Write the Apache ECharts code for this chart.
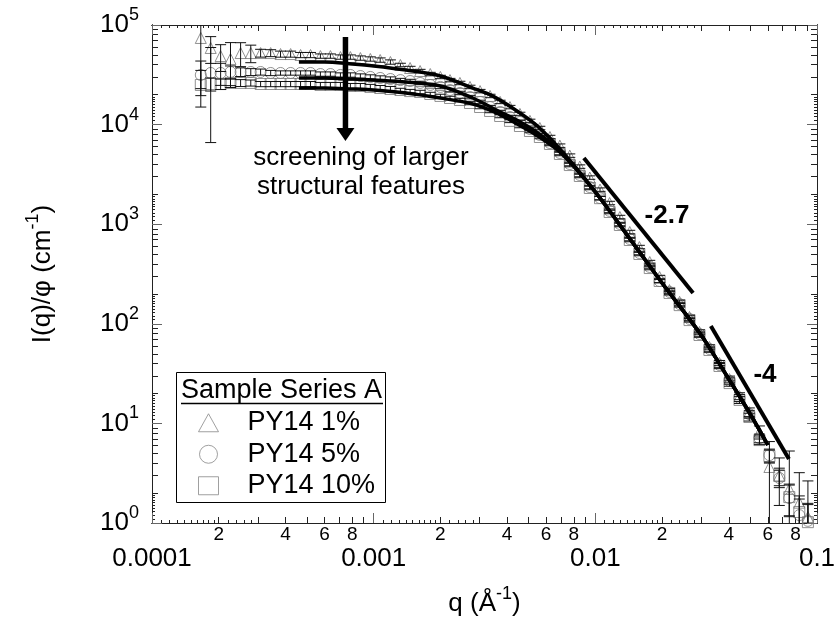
<!DOCTYPE html>
<html><head><meta charset="utf-8">
<script src="https://cdn.jsdelivr.net/npm/echarts@6/dist/echarts.min.js"></script>
<style>html,body{margin:0;padding:0;background:#fff}#c{width:836px;height:626px}</style>
</head><body><div id="c"></div>
<script>
// ---------- data ----------
const qVals = [1.66e-4,1.84e-4,2.04e-4,2.26e-4,2.51e-4,2.79e-4,3.09e-4,3.43e-4,3.80e-4,4.22e-4,
  4.68e-4,5.19e-4,5.75e-4,6.38e-4,7.08e-4,7.85e-4,8.71e-4,9.66e-4,1.07e-3,1.19e-3,
  1.32e-3,1.46e-3,1.62e-3,1.80e-3,2.00e-3,2.21e-3,2.45e-3,2.72e-3,3.02e-3,3.35e-3,
  3.72e-3,4.12e-3,4.57e-3,5.07e-3,5.62e-3,6.24e-3,6.92e-3,7.67e-3,8.51e-3,9.44e-3,
  1.05e-2,1.16e-2,1.29e-2,1.43e-2,1.58e-2,1.76e-2,1.95e-2,2.16e-2,2.40e-2,2.66e-2,
  2.95e-2,3.27e-2,3.63e-2,4.03e-2,4.47e-2,4.95e-2,5.50e-2,6.10e-2,6.76e-2,7.50e-2,
  8.32e-2,9.10e-2];
const py14_1 = [74100,58800,48800,45600,52300,52300,52300,52300,51100,51100,
  50000,50000,48800,48800,47700,47700,46600,45600,44500,42500,
  39700,37000,34500,32200,30100,28000,26200,23900,21700,19400,
  16900,15000,12800,10900,9250,7510,6150,4885,3790,2940,
  2225,1633,1181,835,590,417,295,218,166,117,
  82.7,58.5,40.4,27.9,18.8,13.0,8.2,3.65,3.0,2.2,
  1.6,1.15];
const py14_5 = [31500,33000,33000,33750,33750,33750,33750,33000,33000,33000,
  33000,33000,32200,32200,31500,31500,30760,30100,29400,28700,
  28000,27400,26200,25000,23900,22250,20770,18900,16900,15000,
  13390,11920,10620,9030,7865,6530,5190,4020,3120,2360,
  1830,1360,1005,710,514,372,269,209,158,112,
  79,55.9,38.6,26.7,18.0,12.4,7.1,4.8,2.83,1.78,
  1.2,1.05];
const py14_10 = [25000,25560,25560,26200,26200,26200,25560,25560,25560,25560,
  25560,25560,25000,25000,25000,24410,24410,23900,23300,22780,
  22250,21700,21250,20290,19400,18500,17660,16480,15020,13700,
  12200,10900,9680,8625,7510,6390,5068,3926,3048,2310,
  1825,1326,982,694,502,363,269,204,154,109,
  77.2,54.6,37.7,25.4,17.2,11.6,6.8,4.7,2.96,1.82,
  1.29,1.02];
// relative uncertainties
const err_1 = [0.69,0.30,0.30,0.46,0.27,0.20,0.09,0.08,0.07,0.07,
  0.06,0.06,0.05,0.05,0.05,0.05,0.05,0.05,0.05,0.05,
  0.04,0.04,0.04,0.04,0.04,0.04,0.04,0.04,0.04,0.04,
  0.04,0.04,0.04,0.04,0.04,0.04,0.04,0.04,0.04,0.04,
  0.04,0.04,0.04,0.04,0.04,0.04,0.04,0.04,0.04,0.04,
  0.05,0.05,0.06,0.07,0.08,0.10,0.15,0.80,0.50,1.40,
  1.00,1.30];
const err_5 = [0.38,0.80,0.25,0.15,0.10,0.08,0.07,0.06,0.05,0.05,
  0.05,0.05,0.05,0.05,0.05,0.05,0.05,0.05,0.05,0.05,
  0.04,0.04,0.04,0.04,0.04,0.04,0.04,0.04,0.04,0.04,
  0.04,0.04,0.04,0.04,0.04,0.04,0.04,0.04,0.04,0.04,
  0.04,0.04,0.04,0.04,0.04,0.04,0.04,0.04,0.04,0.04,
  0.05,0.05,0.06,0.07,0.08,0.09,0.10,0.15,0.20,0.35,
  0.45,0.50];
const err_10 = [0.40,0.15,0.12,0.10,0.08,0.07,0.06,0.06,0.06,0.06,
  0.06,0.06,0.06,0.06,0.06,0.06,0.06,0.06,0.06,0.06,
  0.04,0.04,0.04,0.04,0.04,0.04,0.04,0.04,0.04,0.04,
  0.04,0.04,0.04,0.04,0.04,0.04,0.04,0.04,0.04,0.04,
  0.04,0.04,0.04,0.04,0.04,0.04,0.04,0.04,0.04,0.04,
  0.05,0.05,0.06,0.07,0.08,0.09,0.10,0.15,0.20,0.35,
  0.45,0.50];
// model fits
const fitQ = [4.6e-4,6e-4,8e-4,1e-3,1.4e-3,2e-3,2.8e-3,3.5e-3,4.5e-3,5.5e-3,7e-3,1e-2,1.5e-2,2e-2,3e-2,4e-2,5e-2,6e-2];
const fit_1 = [42500,42500,40600,38800,35300,30800,23300,19000,13400,9600,5550,2105,618,257,77.2,27.9,12.4,6.07];
const fit_5 = [29400,29400,28700,28000,26800,24400,18500,14340,10870,8235,5307,2105,618,257,77.2,27.9,12.4,6.07];
const fit_10 = [23300,23300,22800,22300,20800,18500,16100,13380,10000,7690,5190,2105,618,257,77.2,27.9,12.4,6.07];
// power-law guide lines
const slopeAQ = [0.00888, 0.0276], slopeAI = [4620, 204];
const slopeBQ = [0.0332, 0.0747], slopeBI = [95, 4.39];
// arrow
const arrowQ = [7.46e-4], arrowFrom = [75800], arrowTo = [6840];
// ticks
const xDecades = [1e-4, 1e-3, 1e-2];
const yDecades = [1, 10, 100, 1000, 10000];
const minorMant = [2,3,4,5,6,7,8,9];
const subMantY = [1.1,1.2,1.3,1.4,1.5,1.6,1.7,1.8,1.9];
const subMantX = [1.1,1.2,1.3,1.4,1.5,1.6,1.7,1.8,1.9,2.2,2.4,2.6,2.8];
const xLabelMant = [2,4,6,8];
const legendNames = ['PY14 1%','PY14 5%','PY14 10%'];

// ---------- build ----------
const FONT = '"Liberation Sans", Arial, sans-serif';
function expand(m, d){ const o=[]; d.forEach(dd=>m.forEach(mm=>o.push(+(mm*dd).toPrecision(3)))); return o; }
const xMinor = expand(minorMant, xDecades), xSub = expand(subMantX, xDecades), xMinorLab = expand(xLabelMant, xDecades);
const yMinor = expand(minorMant, yDecades), ySub = expand(subMantY, yDecades);

function baseAxis(extra){
  return Object.assign({type:'log', logBase:10, splitLine:{show:false}, minorTick:{show:false}, minorSplitLine:{show:false},
    axisLine:{show:true, lineStyle:{color:'#222', width:1}}, axisPointer:{show:false}, nameMoveOverlap:false}, extra);
}
function tickSet(dim, pos, minor, sub){
  const X = dim==='x' ? {min:1e-4, max:0.1} : {min:1, max:1e5};
  return [
    baseAxis(Object.assign({position:pos, axisTick:{show:true, inside:true, length:10, lineStyle:{color:'#666', width:1}}, axisLabel:{show:false}}, X)),
    baseAxis(Object.assign({position:pos, axisTick:{show:true, inside:true, length:6, customValues:minor, lineStyle:{color:'#222', width:1}}, axisLabel:{show:false}}, X)),
    baseAxis(Object.assign({position:pos, axisTick:{show:true, inside:true, length:3, customValues:sub, lineStyle:{color:'#222', width:1}}, axisLabel:{show:false}}, X))
  ];
}
const supRich = {
  b:{fontSize:26, lineHeight:26, verticalAlign:'bottom', fontFamily:FONT, color:'#000'},
  s:{fontSize:18, lineHeight:18, padding:[0,0,20,0], fontFamily:FONT, color:'#000'}
};
const xAxes = tickSet('x','bottom',xMinor,xSub).concat(tickSet('x','top',xMinor,xSub));
Object.assign(xAxes[0], {
  axisLabel:{show:true, margin:23, fontSize:26, fontFamily:FONT, color:'#000', showMinLabel:true, showMaxLabel:true, hideOverlap:false,
    formatter: v => String(Number(v.toPrecision(3)))},
  name:'{b|q (Å}{s|-1}{b|)}', nameLocation:'middle', nameGap:68, nameTextStyle:{rich:supRich}
});
xAxes[1].axisLabel = {show:true, margin:2, fontSize:19, fontFamily:FONT, color:'#000', customValues:xMinorLab, hideOverlap:false,
  formatter: v => String(Math.round(v / Math.pow(10, Math.floor(Math.log10(v) + 1e-9))))};
const yAxes = tickSet('y','left',yMinor,ySub).concat(tickSet('y','right',yMinor,ySub));
Object.assign(yAxes[0], {
  axisLabel:{show:true, margin:13, showMinLabel:true, showMaxLabel:true, hideOverlap:false,
    formatter: v => '{b|10}{s|' + Math.round(Math.log10(v)) + '}', rich:supRich},
  name:'{b|I(q)/φ (cm}{s|-1}{b|)}', nameLocation:'middle', nameGap:96, nameRotate:90, nameTextStyle:{rich:supRich}
});

function pts(arr){ return qVals.map((q,i)=>[q, arr[i]]); }
function errs(arr, rel){ return qVals.map((q,i)=>[q, Math.max(arr[i]*(1-rel[i]), 1e-3), arr[i]*(1+rel[i])]); }
function renderErr(params, api){
  const q = api.value(0), lo = api.value(1), hi = api.value(2);
  const a = api.coord([q, hi]), b = api.coord([q, lo]);
  const w = 5.5, st = {stroke:'#111', lineWidth:1};
  return {type:'group', children:[
    {type:'line', shape:{x1:a[0], y1:a[1], x2:b[0], y2:b[1]}, style:st},
    {type:'line', shape:{x1:a[0]-w, y1:a[1], x2:a[0]+w, y2:a[1]}, style:st},
    {type:'line', shape:{x1:b[0]-w, y1:b[1], x2:b[0]+w, y2:b[1]}, style:st}
  ]};
}
function renderArrow(params, api){
  const q = api.value(0);
  const a = api.coord([q, api.value(1)]), b = api.coord([q, api.value(2)]);
  const hh = 13, hw = 9;
  return {type:'group', children:[
    {type:'line', shape:{x1:a[0], y1:a[1], x2:b[0], y2:b[1]-hh+1}, style:{stroke:'#000', lineWidth:5.5}},
    {type:'polygon', shape:{points:[[b[0], b[1]], [b[0]-hw, b[1]-hh], [b[0]+hw, b[1]-hh]]}, style:{fill:'#000'}}
  ]};
}
const markerStyle = {color:'rgba(255,255,255,0)', borderColor:'#777', borderWidth:1};
function scatter(name, arr, sym){
  return {type:'scatter', name:name, data:pts(arr), symbol:sym, symbolSize:11, itemStyle:markerStyle, z:2, silent:true, emphasis:{disabled:true}};
}
function errSeries(arr, rel){
  return {type:'custom', data:errs(arr, rel), encode:{x:0, y:[1,2]}, renderItem:renderErr, clip:true, z:3, silent:true};
}
function fitSeries(arr){
  return {type:'line', data:fitQ.map((q,i)=>[q, arr[i]]), symbol:'none', smooth:0.3, lineStyle:{color:'#000', width:3.5}, z:4, silent:true};
}
function guide(qs, is){
  return {type:'line', data:qs.map((q,i)=>[q, is[i]]), symbol:'none', lineStyle:{color:'#000', width:4}, z:4, silent:true};
}

const option = {
  animation:false,
  textStyle:{fontFamily:FONT},
  grid:{left:152, top:25, right:19, bottom:103, containLabel:false, outerBoundsMode:'none'},
  xAxis:xAxes, yAxis:yAxes,
  legend:{data:legendNames, orient:'vertical', left:198, top:407, padding:0, itemGap:0, itemWidth:20, itemHeight:18,
    selectedMode:false, z:10,
    itemStyle:{color:'rgba(255,255,255,0)', borderColor:'#888', borderWidth:1},
    textStyle:{fontSize:27, fontFamily:FONT, color:'#000', lineHeight:31.5, padding:[0,0,0,24]}},
  graphic:[
    {type:'rect', shape:{x:176.5, y:372.5, width:209, height:130}, style:{fill:'#fff', stroke:'#000', lineWidth:1}, z:5},
    {type:'text', x:281.5, y:391, z:11, style:{text:'Sample Series A', fontSize:27, fontFamily:FONT, fill:'#000', align:'center', verticalAlign:'middle', textAlign:'center', textVerticalAlign:'middle'}},
    {type:'line', shape:{x1:181, y1:403.5, x2:383, y2:403.5}, style:{stroke:'#000', lineWidth:1.5}, z:11},
    {type:'text', x:361, y:158, z:11, style:{text:'screening of larger', fontSize:26, fontFamily:FONT, fill:'#000', align:'center', verticalAlign:'middle', textAlign:'center', textVerticalAlign:'middle'}},
    {type:'text', x:361, y:187, z:11, style:{text:'structural features', fontSize:26, fontFamily:FONT, fill:'#000', align:'center', verticalAlign:'middle', textAlign:'center', textVerticalAlign:'middle'}},
    {type:'text', x:667, y:216, z:11, style:{text:'-2.7', fontSize:26, fontWeight:'bold', fontFamily:FONT, fill:'#000', align:'center', verticalAlign:'middle', textAlign:'center', textVerticalAlign:'middle'}},
    {type:'text', x:765, y:375, z:11, style:{text:'-4', fontSize:26, fontWeight:'bold', fontFamily:FONT, fill:'#000', align:'center', verticalAlign:'middle', textAlign:'center', textVerticalAlign:'middle'}}
  ],
  series:[
    scatter(legendNames[0], py14_1, 'triangle'),
    scatter(legendNames[1], py14_5, 'circle'),
    scatter(legendNames[2], py14_10, 'rect'),
    errSeries(py14_1, err_1), errSeries(py14_5, err_5), errSeries(py14_10, err_10),
    fitSeries(fit_1), fitSeries(fit_5), fitSeries(fit_10),
    guide(slopeAQ, slopeAI), guide(slopeBQ, slopeBI),
    {type:'custom', data:arrowQ.map((q,i)=>[q, arrowFrom[i], arrowTo[i]]), encode:{x:0, y:[1,2]}, renderItem:renderArrow, z:6, silent:true}
  ]
};
const chart = echarts.init(document.getElementById('c'), null, {renderer:'canvas'});
chart.setOption(option);
</script>
</body></html>
